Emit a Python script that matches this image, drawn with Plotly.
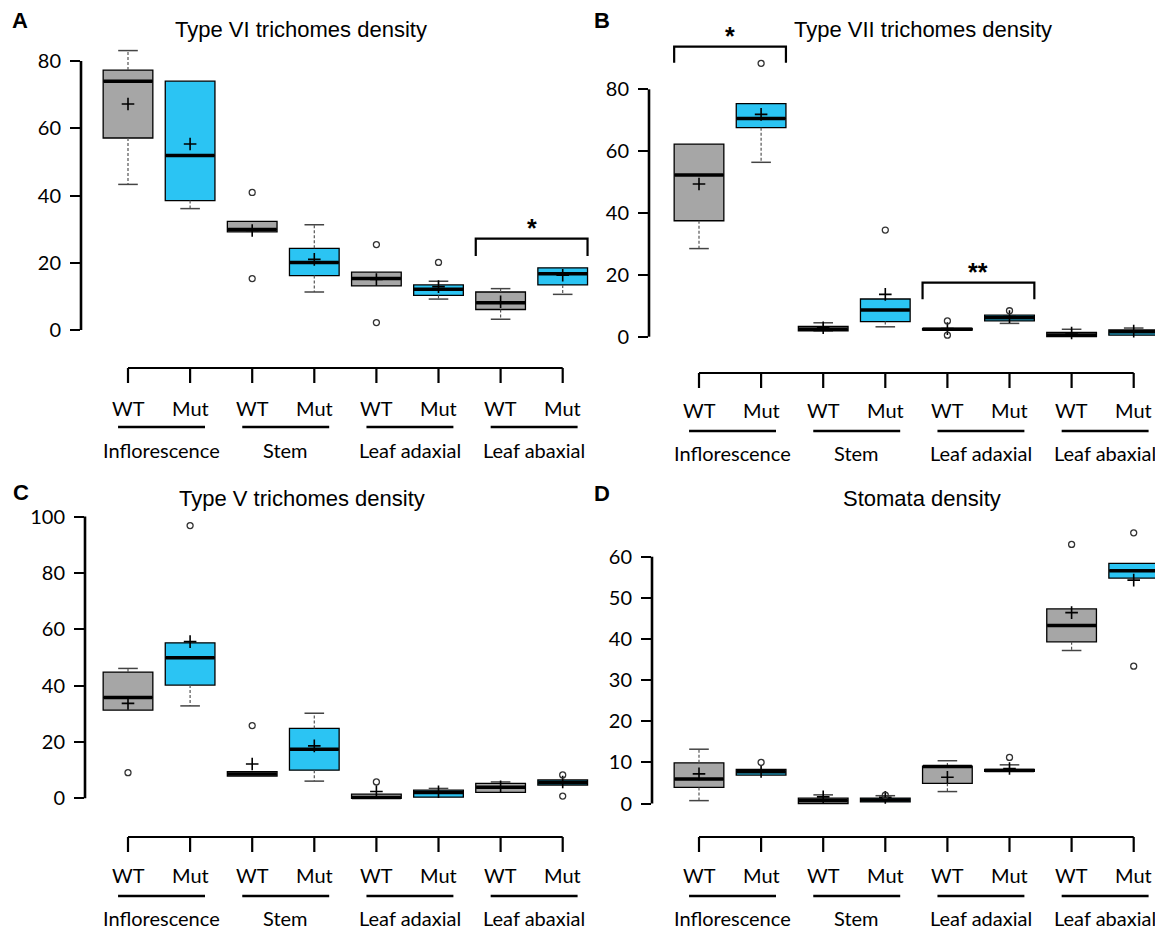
import plotly.graph_objects as go

W, H = 1163, 928
OFF = 8  # the page body adds an 8px margin around the figure

# ---------------- data ----------------
groups = ["Inflorescence", "Stem", "Leaf adaxial", "Leaf abaxial"]
genotypes = ["WT", "Mut", "WT", "Mut", "WT", "Mut", "WT", "Mut"]

# Panel A : Type VI trichomes density
A_q1 = [57.1, 38.5, 29.2, 16.2, 13.1, 10.3, 6.1, 13.4]
A_med = [74.0, 51.9, 29.9, 20.1, 15.3, 12.1, 8.1, 16.7]
A_q3 = [77.3, 74.0, 32.3, 24.3, 17.2, 13.4, 11.3, 18.5]
A_low = [43.3, 36.1, 29.2, 11.3, 13.1, 9.2, 3.2, 10.6]
A_up = [83.1, 74.0, 32.3, 31.3, 17.2, 14.5, 12.3, 18.5]
A_mean = [67.2, 55.3, 29.6, 21.0, 15.0, 12.9, 8.4, 16.3]
A_out_idx = [2, 2, 4, 4, 5]
A_out_val = [40.9, 15.3, 25.4, 2.2, 20.1]

# Panel B : Type VII trichomes density
B_q1 = [37.5, 67.6, 1.9, 4.9, 2.1, 5.1, 0.0, 0.5]
B_med = [52.3, 70.6, 2.4, 8.6, 2.4, 6.1, 0.55, 1.6]
B_q3 = [62.3, 75.4, 3.3, 12.2, 2.7, 7.0, 1.4, 2.2]
B_low = [28.5, 56.4, 1.8, 3.2, 2.1, 4.3, 0.0, 0.5]
B_up = [62.3, 75.4, 4.5, 12.2, 2.7, 7.0, 2.4, 2.8]
B_mean = [49.4, 71.9, 2.9, 13.7, 2.6, 6.5, 1.2, 1.8]
B_out_idx = [1, 3, 4, 4, 5]
B_out_val = [88.4, 34.5, 5.1, 0.5, 8.4]

# Panel C : Type V trichomes density
C_q1 = [31.3, 40.2, 7.9, 10.0, 0.0, 0.4, 2.1, 4.7]
C_med = [35.8, 49.9, 8.6, 17.4, 0.3, 2.1, 3.9, 5.5]
C_q3 = [44.8, 55.2, 9.5, 24.8, 1.5, 2.9, 5.3, 6.5]
C_low = [31.3, 32.8, 7.9, 6.1, 0.0, 0.4, 2.1, 4.7]
C_up = [46.1, 55.2, 9.5, 30.2, 1.5, 3.5, 5.8, 6.5]
C_mean = [33.7, 55.6, 12.2, 18.6, 2.4, 2.3, 4.1, 5.8]
C_out_idx = [0, 1, 2, 4, 7, 7]
C_out_val = [9.1, 96.8, 25.8, 5.8, 8.3, 0.8]

# Panel D : Stomata density
D_q1 = [3.9, 6.9, 0.0, 0.4, 4.9, 7.8, 39.3, 54.8]
D_med = [5.95, 7.7, 0.7, 0.85, 9.0, 8.0, 43.3, 56.6]
D_q3 = [9.9, 8.3, 1.3, 1.3, 9.1, 8.3, 47.3, 58.4]
D_low = [0.7, 6.9, 0.0, 0.4, 2.9, 7.8, 37.2, 54.8]
D_up = [13.2, 8.3, 2.1, 1.9, 10.4, 9.4, 47.3, 58.4]
D_mean = [7.2, 7.8, 1.6, 1.5, 6.4, 8.5, 46.4, 54.3]
D_out_idx = [1, 3, 5, 6, 7, 7]
D_out_val = [10.0, 2.0, 11.2, 63.0, 65.8, 33.4]

titles = ["Type VI trichomes density", "Type VII trichomes density",
          "Type V trichomes density", "Stomata density"]
letters = ["A", "B", "C", "D"]
yticks = [[0, 20, 40, 60, 80], [0, 20, 40, 60, 80],
          [0, 20, 40, 60, 80, 100], [0, 10, 20, 30, 40, 50, 60]]

# significance brackets: (first box, second box, bracket top, leg bottom, label)
A_sig = [(6, 7, 27.2, 22.0, "*")]
B_sig = [(0, 1, 93.8, 88.6, "*"), (4, 5, 17.5, 12.1, "**")]
C_sig = []
D_sig = []

# ---------------- layout geometry (reference pixels) ----------------
panels = [
    dict(q1=A_q1, med=A_med, q3=A_q3, low=A_low, up=A_up, mean=A_mean,
         oi=A_out_idx, ov=A_out_val, sig=A_sig,
         axis_px=81, right_px=595, top_px=40, bottom_px=345,
         pos0=128, step=62.1, zero_px=330, unit=3.3625,
         rows=(368, 383, 408, 427, 450), title_xy=(301, 29), letter_xy=(20, 20)),
    dict(q1=B_q1, med=B_med, q3=B_q3, low=B_low, up=B_up, mean=B_mean,
         oi=B_out_idx, ov=B_out_val, sig=B_sig,
         axis_px=649, right_px=1160, top_px=20, bottom_px=350,
         pos0=699, step=62.1, zero_px=336.7, unit=3.092,
         rows=(373, 388, 410, 431, 453), title_xy=(923, 29), letter_xy=(602, 20)),
    dict(q1=C_q1, med=C_med, q3=C_q3, low=C_low, up=C_up, mean=C_mean,
         oi=C_out_idx, ov=C_out_val, sig=C_sig,
         axis_px=85, right_px=595, top_px=505, bottom_px=812,
         pos0=128, step=62.1, zero_px=798.3, unit=2.817,
         rows=(837, 852, 875, 896, 918), title_xy=(302, 498), letter_xy=(21, 492)),
    dict(q1=D_q1, med=D_med, q3=D_q3, low=D_low, up=D_up, mean=D_mean,
         oi=D_out_idx, ov=D_out_val, sig=D_sig,
         axis_px=652, right_px=1160, top_px=520, bottom_px=815,
         pos0=699, step=62.1, zero_px=803.5, unit=4.113,
         rows=(837, 852, 875, 896, 918), title_xy=(922, 499), letter_xy=(602, 493)),
]

GRAY = "#A6A6A6"
BLUE = "#2BC4F3"
BOXW = 0.8
NUM_FONT = "Lato, Open Sans, sans-serif"
TITLE_FONT = "Liberation Sans, Arial, sans-serif"


def px_(x):
    return (x - OFF) / W


def py(y):
    return 1 - (y - OFF) / H


fig = go.Figure()
shapes = []
annotations = []
positions = list(range(len(genotypes)))

for k, p in enumerate(panels):
    sfx = "" if k == 0 else str(k + 1)
    xa, ya = "x" + sfx, "y" + sfx
    colors = [GRAY if g == "WT" else BLUE for g in genotypes]

    # boxes (whiskers drawn separately, dashed)
    for i in positions:
        fig.add_trace(go.Box(
            x=[i], q1=[p["q1"][i]], median=[p["med"][i]], q3=[p["q3"][i]],
            lowerfence=[p["q1"][i]], upperfence=[p["q3"][i]],
            width=BOXW, whiskerwidth=0, fillcolor=colors[i],
            line=dict(color="black", width=1.3), boxpoints=False,
            hoverinfo="skip", showlegend=False, xaxis=xa, yaxis=ya))

    wx, wy = [], []
    for i in positions:
        wx += [i, i, None, i, i, None]
        wy += [p["q3"][i], p["up"][i], None, p["q1"][i], p["low"][i], None]
    fig.add_trace(go.Scatter(x=wx, y=wy, mode="lines",
                             line=dict(color="#555555", width=1.2, dash="3px,2px"),
                             hoverinfo="skip", showlegend=False, xaxis=xa, yaxis=ya))
    cx, cy = [], []
    for i in positions:
        if p["up"][i] > p["q3"][i]:
            cx.append(i); cy.append(p["up"][i])
        if p["low"][i] < p["q1"][i]:
            cx.append(i); cy.append(p["low"][i])
    fig.add_trace(go.Scatter(x=cx, y=cy, mode="markers",
                             marker=dict(symbol="line-ew", size=14, color="#444444",
                                         line=dict(color="#444444", width=1.5)),
                             hoverinfo="skip", showlegend=False, xaxis=xa, yaxis=ya))
    # thick medians (line-ew length = 1.4 * size)
    fig.add_trace(go.Scatter(x=positions, y=p["med"], mode="markers",
                             marker=dict(symbol="line-ew", size=BOXW * p["step"] / 1.4 - 0.5,
                                         color="black",
                                         line=dict(color="black", width=3.5)),
                             hoverinfo="skip", showlegend=False, xaxis=xa, yaxis=ya))
    fig.add_trace(go.Scatter(x=positions, y=p["mean"], mode="markers",
                             marker=dict(symbol="cross-thin", size=9, color="black",
                                         line=dict(color="black", width=1.6)),
                             hoverinfo="skip", showlegend=False, xaxis=xa, yaxis=ya))
    fig.add_trace(go.Scatter(x=p["oi"], y=p["ov"], mode="markers",
                             marker=dict(symbol="circle-open", size=6, color="#333333",
                                         line=dict(color="#333333", width=1.3)),
                             hoverinfo="skip", showlegend=False, xaxis=xa, yaxis=ya))

    x0 = (p["axis_px"] - p["pos0"]) / p["step"]
    x1 = (p["right_px"] - p["pos0"]) / p["step"]
    y0 = (p["zero_px"] - p["bottom_px"]) / p["unit"]
    y1 = (p["zero_px"] - p["top_px"]) / p["unit"]
    fig.update_layout(**{
        ("xaxis" + sfx): dict(domain=[px_(p["axis_px"]), px_(p["right_px"])],
                              range=[x0, x1], visible=False, anchor=ya),
        ("yaxis" + sfx): dict(domain=[py(p["bottom_px"]), py(p["top_px"])],
                              range=[y0, y1], anchor=xa, showgrid=False,
                              zeroline=False, showline=False,
                              tickmode="array", tickvals=yticks[k],
                              ticks="outside", ticklen=10, tickwidth=2.2,
                              tickcolor="black", ticklabelstandoff=5,
                              tickfont=dict(family=NUM_FONT, size=20, color="black")),
    })
    shapes.append(dict(type="line", xref=xa + " domain", yref=ya,
                       x0=0, x1=0, y0=yticks[k][0], y1=yticks[k][-1],
                       line=dict(color="black", width=2.6)))

    # bracket-style category axis
    r_line, r_tick, r_lab, r_ul, r_grp = p["rows"]
    shapes.append(dict(type="line", xref=xa, yref="paper",
                       x0=positions[0], x1=positions[-1], y0=py(r_line), y1=py(r_line),
                       line=dict(color="black", width=2.2)))
    for i in positions:
        shapes.append(dict(type="line", xref=xa, yref="paper",
                           x0=i, x1=i, y0=py(r_line), y1=py(r_tick),
                           line=dict(color="black", width=2.2)))
        annotations.append(dict(x=i, y=py(r_lab), xref=xa, yref="paper",
                                text=genotypes[i], showarrow=False,
                                xanchor="center", yanchor="middle",
                                font=dict(family=NUM_FONT, size=20, color="black")))
    for g, name in enumerate(groups):
        a, b = positions[2 * g], positions[2 * g + 1]
        shapes.append(dict(type="line", xref=xa, yref="paper",
                           x0=a - 0.16, x1=b + 0.24, y0=py(r_ul), y1=py(r_ul),
                           line=dict(color="black", width=2.6)))
        annotations.append(dict(x=(a + b) / 2 + 0.04, y=py(r_grp), xref=xa, yref="paper",
                                text=name, showarrow=False,
                                xanchor="center", yanchor="middle",
                                font=dict(family=NUM_FONT, size=20, color="black")))

    for (a, b, top, leg, lab) in p["sig"]:
        xl, xr = a - BOXW / 2, b + BOXW / 2
        shapes.append(dict(type="path", xref=xa, yref=ya,
                           path=f"M {xl},{leg} L {xl},{top} L {xr},{top} L {xr},{leg}",
                           line=dict(color="black", width=2.2)))
        annotations.append(dict(x=(xl + xr) / 2, y=top, xref=xa, yref=ya,
                                text="<b>" + lab + "</b>", showarrow=False,
                                xanchor="center", yanchor="bottom", yshift=-5,
                                font=dict(family=TITLE_FONT, size=25, color="black")))

    tx, ty = p["title_xy"]
    annotations.append(dict(x=px_(tx), y=py(ty), xref="paper", yref="paper",
                            text=titles[k], showarrow=False,
                            xanchor="center", yanchor="middle",
                            font=dict(family=TITLE_FONT, size=22, color="black")))
    lx, ly = p["letter_xy"]
    annotations.append(dict(x=px_(lx), y=py(ly), xref="paper", yref="paper",
                            text="<b>" + letters[k] + "</b>", showarrow=False,
                            xanchor="center", yanchor="middle",
                            font=dict(family=TITLE_FONT, size=22, color="black")))

fig.update_layout(width=W, height=H, autosize=False,
                  margin=dict(l=0, r=0, t=0, b=0),
                  paper_bgcolor="white", plot_bgcolor="white",
                  boxmode="overlay", showlegend=False,
                  shapes=shapes, annotations=annotations)

fig.write_html("out.html")
